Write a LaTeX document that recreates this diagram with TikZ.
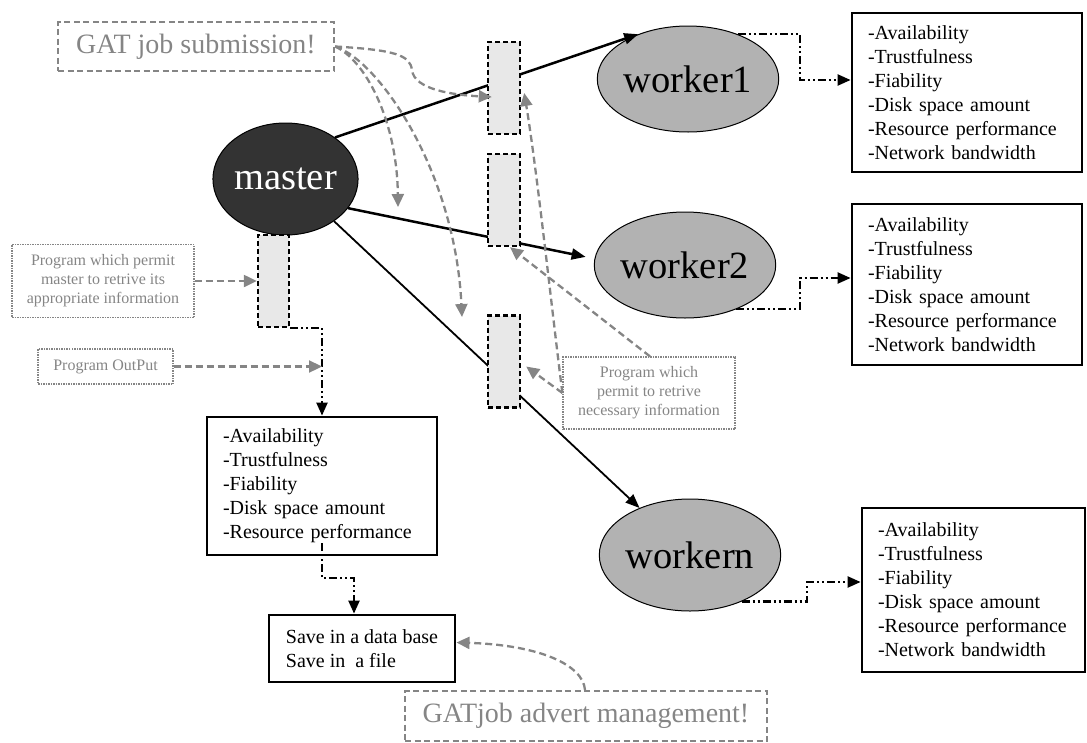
\documentclass[tikz,border=0pt]{standalone}
\usepackage{fontspec}
\setmainfont{Liberation Serif}
\usetikzlibrary{shapes.geometric,arrows.meta,calc}
\definecolor{gline}{HTML}{858585}
\begin{document}
\begin{tikzpicture}[x=1pt,y=-1pt,
  bigell/.style={ellipse, draw=black, line width=1pt, inner sep=0pt, font=\fontsize{38.5}{40}\selectfont},
  info/.style={draw=black, line width=2.8pt, align=left, inner xsep=16pt, inner ysep=0pt, font=\fontsize{20}{24}\selectfont},
  slot/.style={draw=black, dash pattern=on 5pt off 3pt, line width=2.4pt, fill=black!9, minimum width=32pt, minimum height=92pt, inner sep=0pt},
  gatbox/.style={draw=gline, dash pattern=on 6pt off 3.5pt, line width=2.2pt, text=gline, inner sep=0pt, font=\fontsize{28}{32}\selectfont},
  notebox/.style={draw=gline, dash pattern=on 1.5pt off 1pt, line width=1.2pt, text=gline, align=center, inner sep=0pt, font=\fontsize{16}{19}\selectfont},
  mainarrow/.style={draw=black, line width=2.5pt, -{Triangle[length=14pt,width=11pt]}},
  dd/.style={draw=black, line width=2.2pt, dash pattern=on 8pt off 3pt on 2pt off 3pt on 2pt off 3pt, -{Triangle[length=13pt,width=11pt]}},
  gd/.style={draw=gline, line width=2.3pt, dash pattern=on 7pt off 4pt, -{Triangle[length=13pt,width=12pt]}}
]
\useasboundingbox (0,0) rectangle (1087,742);

% ellipses
\node[bigell, fill=black!80, text=white, minimum width=135pt, minimum height=112pt] (master) at (285.5,179) {master};
\node[bigell, fill=black!30, minimum width=125pt, minimum height=106pt] (w1) at (688,79) {worker1};
\node[bigell, fill=black!30, minimum width=126pt, minimum height=106pt] (w2) at (685,265) {worker2};
\node[bigell, fill=black!30, minimum width=126pt, minimum height=112pt] (wn) at (690,555) {workern};

% main arrows
\draw[mainarrow] (master.40) -- (w1.138);
\draw[mainarrow, shorten >=9pt] (master.-25) -- (w2.176);
\draw[mainarrow, line width=1.8pt] (master.-41) -- (wn.137);

% slots
\node[slot] (R1) at (504,88) {};
\node[slot] (R2) at (504,200) {};
\node[slot] (R3) at (504,361.5) {};
\node[slot, minimum width=31pt] (R4) at (273.5,281) {};

% info boxes
\node[info, text width=198pt, minimum height=159pt] (B1) at (967,92.5)
  {-Availability\\-Trustfulness\\-Fiability\\-Disk space amount\\-Resource performance\\-Network bandwidth};
\node[info, text width=198pt, minimum height=161pt] (B2) at (967,284.5)
  {-Availability\\-Trustfulness\\-Fiability\\-Disk space amount\\-Resource performance\\-Network bandwidth};
\node[info, text width=191pt, minimum height=164pt] (B3) at (973.5,590)
  {-Availability\\-Trustfulness\\-Fiability\\-Disk space amount\\-Resource performance\\-Network bandwidth};
\node[info, text width=198pt, minimum height=138pt] (B4) at (322,486)
  {-Availability\\-Trustfulness\\-Fiability\\-Disk space amount\\-Resource performance};
\node[info, inner xsep=17pt, minimum width=186pt, minimum height=67pt] (Save) at (362,648.5)
  {Save in a data base\\Save in\ \ a file};

% gray boxes
\node[gatbox, minimum width=276pt, minimum height=49pt] (Sub) at (196,46.5) {GAT job submission!};
\node[gatbox, minimum width=362pt, minimum height=50pt] (G2) at (586,716) {GATjob advert management!};
\node[notebox, minimum width=182pt, minimum height=73pt] (P1) at (103,281)
  {Program which permit\\master to retrive its\\appropriate information};
\node[notebox, minimum width=135pt, minimum height=35pt] (P3) at (105.5,366.5) {Program OutPut};
\node[notebox, minimum width=172pt, minimum height=72pt] (P2) at (649,393)
  {Program which\\permit to retrive\\necessary information};

% dash-dot connectors
\coordinate (c1) at (800,80);
\coordinate (c2) at (800,278);
\coordinate (c3) at (807,582);
\coordinate (c5) at (354,578);
\draw[dd] (w1.42) -| (c1) -- (c1 -| B1.west);
\draw[dd] (w2.-41) -| (c2) -- (c2 -| B2.west);
\draw[dd] (wn.-42) -| (c3) -- (c3 -| B3.west);
\draw[dd] (R4.south east) -| (B4.north);
\draw[dd] ([yshift=13pt]B4.south) |- (c5) -- (c5 |- Save.north);

% gray dashed connectors
\coordinate (t1) at (398,207);
\coordinate (t2) at (462,317);
\draw[gd] (Sub.east) .. controls (395,50) and (410,55) .. (412,70) .. controls (414,90) and (455,95) .. ([xshift=5pt,yshift=-9pt]R1.west);
\draw[gd] (Sub.east) .. controls (365,60) and (397,120) .. (t1);
\draw[gd] (Sub.east) .. controls (378,60) and (455,170) .. (t2);
\draw[gd] (P2.west) -- ([xshift=5pt,yshift=-5pt]R3.east);
\draw[gd] ([xshift=1pt]P2.north) -- ([xshift=6pt]R2.south);
\draw[gd] (P2.west) .. controls (553,320) and (537,170) .. ([xshift=3pt,yshift=-5pt]R1.east);
\draw[gd] (P1.east) -- (R4.west);
\draw[gd] (P3.east) -- (P3.east -| B4.north);
\draw[gd] ([xshift=-1pt]G2.north) .. controls (583,665) and (540,645) .. ([yshift=6pt]Save.east);
\end{tikzpicture}
\end{document}
